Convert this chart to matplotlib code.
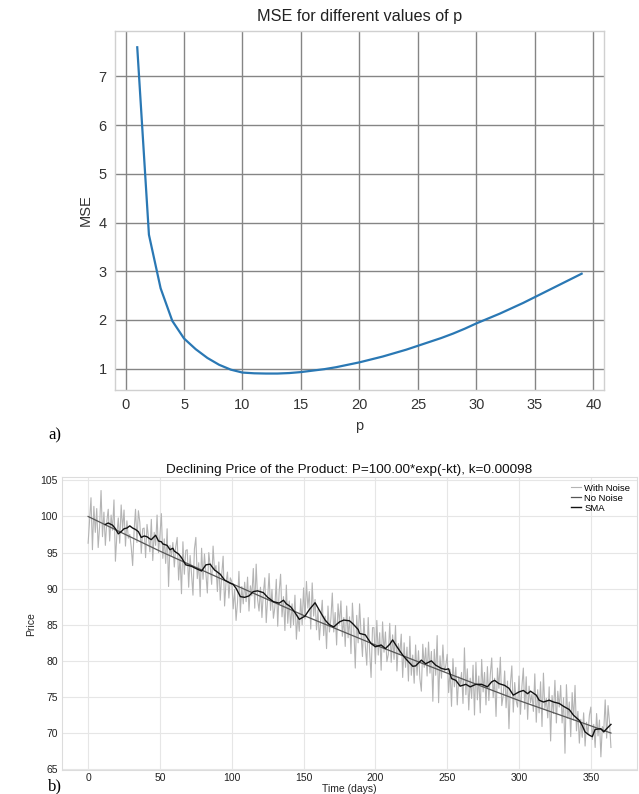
import matplotlib

matplotlib.use("Agg")
import matplotlib.pyplot as plt

plt.rcParams["font.family"] = ["Liberation Sans", "DejaVu Sans"]

# panel a): MSE against p
p_values = list(range(1, 40))
mse_values = [
    7.60, 3.75, 2.65, 1.98, 1.62, 1.40, 1.22, 1.08, 0.98, 0.92,
    0.905, 0.90, 0.90, 0.91, 0.93, 0.96, 0.99, 1.03, 1.08, 1.13,
    1.19, 1.25, 1.32, 1.39, 1.47, 1.55, 1.63, 1.72, 1.82, 1.93,
    2.03, 2.13, 2.24, 2.35, 2.47, 2.59, 2.71, 2.83, 2.95,
]

# panel b): daily price with noise, days 0..364
noisy_price = [
    96.3, 99.5, 102.6, 95.4, 101.4, 97.8, 101.1, 95.7, 98.6, 103.6,
    97.2, 100.6, 96.0, 99.3, 101.0, 96.6, 100.2, 98.1, 102.3, 93.8,
    97.4, 99.8, 96.3, 101.6, 98.2, 100.9, 95.9, 99.4, 97.0, 97.5,
    95.8, 93.2, 98.0, 101.0, 96.4, 100.8, 99.2, 94.9, 98.3, 98.4,
    94.3, 98.9, 97.2, 95.1, 99.6, 93.9, 97.8, 96.0, 100.2, 95.0,
    97.4, 100.4, 94.2, 96.9, 93.5, 98.3, 90.3, 96.0, 94.6, 96.4,
    93.0, 95.8, 97.1, 91.2, 94.4, 89.3, 96.5, 92.0, 95.3, 95.4,
    90.2, 94.6, 92.0, 89.1, 95.5, 97.1, 91.4, 93.6, 88.9, 95.6,
    91.3, 94.8, 92.2, 89.4, 95.0, 93.1, 90.6, 95.9, 92.5, 93.2,
    89.6, 93.7, 88.4, 91.9, 94.5, 87.6, 90.8, 92.3, 88.7, 91.5,
    91.0, 87.2, 89.9, 85.6, 88.1, 92.4, 86.7, 90.3, 87.9, 90.9,
    88.2, 91.6, 86.9, 90.4, 89.0, 92.8, 87.3, 93.4, 88.5, 86.9,
    90.2, 86.0, 89.4, 91.5, 85.3, 88.7, 92.1, 87.0, 89.9, 85.9,
    87.4, 91.3, 84.8, 89.6, 92.0, 86.1, 88.9, 84.2, 90.5, 85.2,
    88.3, 84.6, 87.9, 85.0, 89.1, 83.0, 86.4, 84.1, 88.6, 85.0,
    90.1, 85.8, 91.0, 87.3, 89.6, 84.4, 90.8, 86.2, 88.5, 84.3,
    87.1, 82.9, 85.8, 88.4, 83.5, 86.2, 81.7, 87.6, 84.0, 85.8,
    89.4, 84.0, 86.7, 82.2, 87.9, 85.1, 88.3, 83.4, 86.0, 82.0,
    87.6, 83.2, 86.1, 81.0, 88.0, 84.4, 79.0, 86.3, 82.5, 87.9,
    83.8, 80.6, 85.9, 82.1, 79.4, 86.0, 81.3, 77.7, 84.6, 84.6,
    79.6, 85.6, 80.8, 83.9, 78.7, 85.4, 81.2, 84.0, 79.9, 80.9,
    85.2, 79.8, 83.6, 80.2, 84.9, 78.6, 82.4, 80.9, 83.7, 77.7,
    82.5, 79.1, 81.9, 77.2, 83.4, 78.0, 80.8, 76.9, 82.2, 78.0,
    81.4, 77.5, 75.8, 82.3, 79.1, 81.8, 77.9, 82.6, 78.3, 81.3,
    74.4, 81.6, 78.0, 83.5, 74.2, 80.7, 77.6, 82.2, 78.5, 79.3,
    80.9, 75.6, 78.8, 73.7, 80.3, 76.4, 79.1, 73.9, 77.8, 76.5,
    78.4, 74.1, 81.8, 75.3, 78.9, 73.2, 77.6, 74.8, 79.4, 72.5,
    79.8, 74.6, 77.9, 72.8, 80.2, 75.7, 78.4, 73.9, 79.2, 74.5,
    78.1, 80.4, 74.9, 77.6, 72.3, 79.0, 76.2, 80.5, 73.8, 75.2,
    78.6, 73.5, 77.2, 70.6, 76.8, 79.3, 72.9, 77.0, 74.5, 73.6,
    77.9, 72.6, 76.4, 79.0, 73.3, 77.8, 71.9, 76.5, 74.2, 75.4,
    73.0, 78.2, 71.5, 76.0, 72.8, 77.1, 70.9, 78.3, 73.4, 74.8,
    72.1, 76.4, 68.9, 75.2, 72.7, 77.3, 71.4, 75.8, 73.6, 76.6,
    71.4, 74.9, 67.2, 76.7, 72.0, 74.3, 69.5, 75.6, 71.8, 76.6,
    70.3, 73.0, 68.6, 71.9, 69.4, 72.8, 68.2, 71.5, 69.8, 72.5,
    73.6, 69.1, 71.2, 68.0, 72.7, 69.6, 71.8, 66.7, 70.9, 70.4,
    74.6, 69.3, 73.8, 71.5, 68.0,
]
noisy_days = list(range(len(noisy_price)))

# noise-free price curve, read at a few days
clean_days = [0, 50, 100, 150, 200, 250, 300, 350, 364]
clean_price = [100.0, 95.2, 90.7, 86.3, 82.2, 78.3, 74.5, 71.0, 70.0]

# moving average line
sma_days = [
    12, 14, 17, 19, 21, 23, 25, 27, 29, 31, 33, 35, 37, 39, 41, 43, 44, 47, 49,
    51, 52, 55, 57, 59, 60, 63, 65, 68, 70, 72, 75, 79, 82, 85, 86, 88, 92, 95,
    99, 101, 103, 106, 109, 112, 115, 118, 122, 125, 129, 133, 136, 138, 141,
    144, 147, 151, 154, 158, 161, 165, 168, 171, 175, 178, 182, 184, 188, 189,
    193, 197, 200, 204, 207, 210, 212, 215, 219, 222, 226, 228, 232, 235, 239,
    242, 246, 249, 251, 253, 256, 259, 263, 266, 270, 274, 278, 281, 283, 286,
    290, 293, 296, 300, 303, 306, 308, 312, 314, 317, 321, 324, 328, 331, 335,
    338, 342, 344, 346, 349, 351, 353, 357, 359, 361, 364,
]
sma_price = [
    98.9, 99.1, 98.8, 98.3, 97.6, 97.9, 98.3, 98.4, 98.7, 98.4, 98.2, 97.9,
    97.1, 97.3, 97.2, 96.9, 96.8, 97.4, 96.6, 96.5, 96.2, 96.0, 95.4, 95.6,
    95.2, 94.8, 94.3, 93.3, 93.2, 93.1, 92.8, 92.45, 93.3, 93.4, 93.1, 92.6,
    92.0, 91.2, 90.75, 90.6, 90.05, 88.9, 88.8, 89.0, 89.6, 89.7, 89.45, 88.8,
    88.2, 88.0, 88.4, 87.9, 87.5, 86.7, 85.75, 86.2, 87.1, 88.05, 87.0, 85.65,
    85.0, 84.7, 85.4, 85.65, 85.55, 85.2, 84.35, 83.8, 83.6, 82.4, 81.95,
    82.2, 81.7, 82.3, 82.9, 81.95, 80.8, 80.1, 79.25, 79.3, 80.1, 79.6, 80.0,
    79.4, 78.95, 78.8, 78.9, 77.55, 77.3, 76.5, 76.75, 76.4, 76.75, 76.75,
    76.4, 77.1, 77.3, 76.85, 76.6, 76.2, 75.25, 75.7, 75.9, 75.45, 75.8,
    75.25, 74.55, 74.3, 74.55, 74.3, 74.1, 73.7, 73.25, 72.45, 71.75, 71.05,
    70.15, 69.7, 69.5, 70.5, 70.6, 70.15, 70.6, 71.2,
]

fig = plt.figure(figsize=(6.39, 7.94), dpi=100)

# ---- panel a)
ax1 = fig.add_axes([0.180, 0.509, 0.765, 0.452])
ax1.plot(p_values, mse_values, color="#2a78b4", linewidth=1.6)
ax1.set_title("MSE for different values of p", fontsize=11.7, color="#222222", pad=7)
ax1.set_xlabel("p", fontsize=10.5, color="#333333", labelpad=5)
ax1.set_ylabel("MSE", fontsize=10.5, color="#333333", labelpad=4)
ax1.set_xticks(range(0, 41, 5))
ax1.set_yticks(range(1, 8))
ax1.grid(True, color="#858585", linewidth=1.0)
ax1.set_axisbelow(True)
ax1.tick_params(length=0, labelsize=10.5, labelcolor="#333333", pad=6)
for spine in ax1.spines.values():
    spine.set_color("#d0d0d0")
    spine.set_linewidth(1.0)

# ---- panel b)
ax2 = fig.add_axes([0.097, 0.030, 0.900, 0.369])
ax2.plot(noisy_days, noisy_price, color="#b4b4b4", linewidth=0.8, label="With Noise")
ax2.plot(clean_days, clean_price, color="#555555", linewidth=0.9, label="No Noise")
ax2.plot(sma_days, sma_price, color="#111111", linewidth=1.0, label="SMA")
ax2.set_title("Declining Price of the Product: P=100.00*exp(-kt), k=0.00098",
              fontsize=9.7, color="#111111", pad=3)
ax2.set_xlabel("Time (days)", fontsize=7.5, color="#222222", labelpad=0.5)
ax2.set_ylabel("Price", fontsize=7.5, color="#222222", labelpad=3)
ax2.set_xticks(range(0, 351, 50))
ax2.set_yticks(range(65, 106, 5))
ax2.grid(True, color="#e6e6e6", linewidth=0.8)
ax2.set_axisbelow(True)
ax2.tick_params(axis="x", length=0, labelsize=7.5, labelcolor="#222222", pad=2)
ax2.tick_params(axis="y", length=0, labelsize=7.5, labelcolor="#222222", pad=3)
for spine in ax2.spines.values():
    spine.set_color("#dcdcdc")
    spine.set_linewidth(0.8)
ax2.legend(loc="upper right", frameon=False, fontsize=6.8, handlelength=1.0,
           handletextpad=0.4, labelspacing=0.1, borderaxespad=0.3)

fig.text(0.075, 0.447, "a)", family=["Liberation Serif", "DejaVu Serif"], fontsize=12)
fig.text(0.075, 0.005, "b)", family=["Liberation Serif", "DejaVu Serif"], fontsize=12)

fig.savefig("out.png", dpi=100)
